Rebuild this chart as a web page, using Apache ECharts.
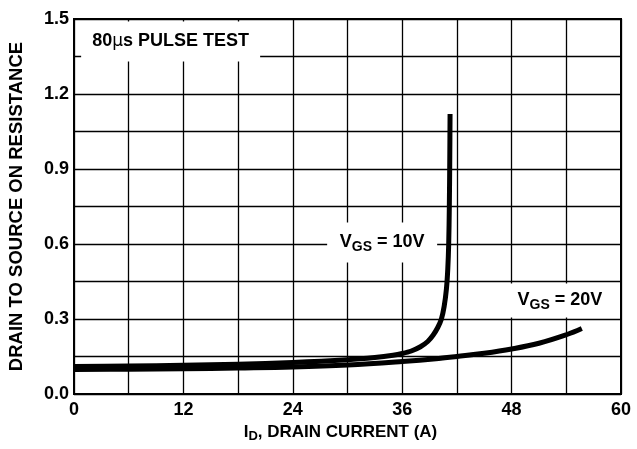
<!DOCTYPE html>
<html>
<head>
<meta charset="utf-8">
<script src="https://cdn.jsdelivr.net/npm/echarts@6/dist/echarts.min.js"></script>
<style>html,body{margin:0;padding:0;background:#fff}#c{width:637px;height:449px}</style>
</head>
<body>
<div id="c"></div>
<script>
// Drain current (A) and on-resistance values
const vgs10 = [
  [0, 0.110], [6, 0.112], [12, 0.115], [18, 0.119], [24, 0.126], [30, 0.137],
  [33, 0.146], [35, 0.155], [36, 0.162], [37, 0.172], [38, 0.189],
  [38.8, 0.210], [39.4, 0.236], [39.9, 0.266], [40.3, 0.300], [40.6, 0.350],
  [40.85, 0.420], [41.0, 0.500], [41.1, 0.600], [41.17, 0.750], [41.22, 0.950],
  [41.25, 1.120]
];
const vgs20 = [
  [0, 0.098], [6, 0.099], [12, 0.101], [18, 0.104], [24, 0.108], [30, 0.116],
  [36, 0.130], [40, 0.142], [42, 0.150], [45, 0.163], [48, 0.180], [51, 0.203],
  [54, 0.237], [55.7, 0.262]
];
const xTickLabels = [0, 12, 24, 36, 48, 60];
const yTickLabels = [0.0, 0.3, 0.6, 0.9, 1.2, 1.5];
const annotations = [
  { text: '{b|80}{mu|µ}{b|s PULSE TEST}', coord: [10.6, 1.41], w: 179, h: 40 },
  { text: '{b|V}{s|GS}{b| = 10V}', coord: [33.8, 0.606], w: 110, h: 40 },
  { text: '{b|V}{s|GS}{b| = 20V}', coord: [53.3, 0.374], w: 108, h: 34 }
];

const FONT = 'Liberation Sans, Arial, Helvetica, sans-serif';
const chart = echarts.init(document.getElementById('c'), null, { renderer: 'canvas' });

const annRich = {
  b: { fontFamily: FONT, fontWeight: 'bold', fontSize: 18, color: '#000' },
  mu: { fontFamily: 'DejaVu Sans, ' + FONT, fontWeight: 'normal', fontSize: 17, color: '#000' },
  s: { fontFamily: FONT, fontWeight: 'bold', fontSize: 14, color: '#000', padding: [10, 0, 0, 0] }
};
const nameRich = {
  b: { fontFamily: FONT, fontWeight: 'bold', fontSize: 17, color: '#000' },
  s: { fontFamily: FONT, fontWeight: 'bold', fontSize: 13, color: '#000', padding: [9, 0, 0, 0] }
};

chart.setOption({
  animation: false,
  backgroundColor: '#fff',
  grid: { left: 74, top: 19, width: 547, height: 375, show: false, containLabel: false, outerBoundsMode: 'none' },
  xAxis: {
    type: 'value', min: 0, max: 60, interval: 6,
    axisLine: { show: true, onZero: false, lineStyle: { color: '#000', width: 2 } },
    axisTick: { show: false },
    splitLine: { show: true, lineStyle: { color: '#000', width: 1.3 } },
    axisLabel: {
      margin: 7, fontFamily: FONT, fontWeight: 'bold', fontSize: 18, color: '#000',
      formatter: v => xTickLabels.includes(v) ? String(v) : ''
    },
    name: '{b|I}{s|D}{b|, DRAIN CURRENT (A)}',
    nameLocation: 'middle', nameGap: 27,
    nameTextStyle: { rich: nameRich, padding: [0, 14, 0, 0] }
  },
  yAxis: {
    type: 'value', min: 0, max: 1.5, interval: 0.15,
    axisLine: { show: true, onZero: false, lineStyle: { color: '#000', width: 2 } },
    axisTick: { show: false },
    splitLine: { show: true, lineStyle: { color: '#000', width: 1.3 } },
    axisLabel: {
      margin: 5, fontFamily: FONT, fontWeight: 'bold', fontSize: 18, color: '#000',
      formatter: v => {
        const r = Math.round(v * 100) / 100;
        return yTickLabels.some(t => Math.abs(t - r) < 1e-6) ? r.toFixed(1) : '';
      }
    },
    name: 'DRAIN TO SOURCE ON RESISTANCE',
    nameLocation: 'middle', nameGap: 48, nameRotate: 90,
    nameTextStyle: { fontFamily: FONT, fontWeight: 'bold', fontSize: 18.5, color: '#000' }
  },
  graphic: [],
  series: [
    {
      type: 'line', data: vgs20, showSymbol: false, smooth: 0.4,
      lineStyle: { color: '#000', width: 5 }, z: 3
    },
    {
      type: 'line', data: vgs10, showSymbol: false, smooth: 0.3,
      lineStyle: { color: '#000', width: 5, join: 'round' }, z: 3,
      markPoint: {
        symbol: 'rect', symbolSize: 0, silent: true, z: 10,
        data: annotations.map(a => ({
          coord: a.coord,
          label: {
            show: true, position: 'inside', formatter: a.text,
            backgroundColor: '#fff', width: a.w, height: a.h, align: 'center',
            verticalAlign: 'middle', lineHeight: a.h,
            rich: annRich
          }
        }))
      }
    }
  ]
});

function drawFrame() {
  const p0 = chart.convertToPixel({ gridIndex: 0 }, [0, 0]);
  const p1 = chart.convertToPixel({ gridIndex: 0 }, [60, 1.5]);
  chart.setOption({
    graphic: [{
      type: 'rect', z: 100, silent: true,
      shape: { x: p0[0], y: p1[1], width: p1[0] - p0[0], height: p0[1] - p1[1] },
      style: { fill: 'none', stroke: '#000', lineWidth: 2 }
    }]
  });
}
drawFrame();
</script>
</body>
</html>
